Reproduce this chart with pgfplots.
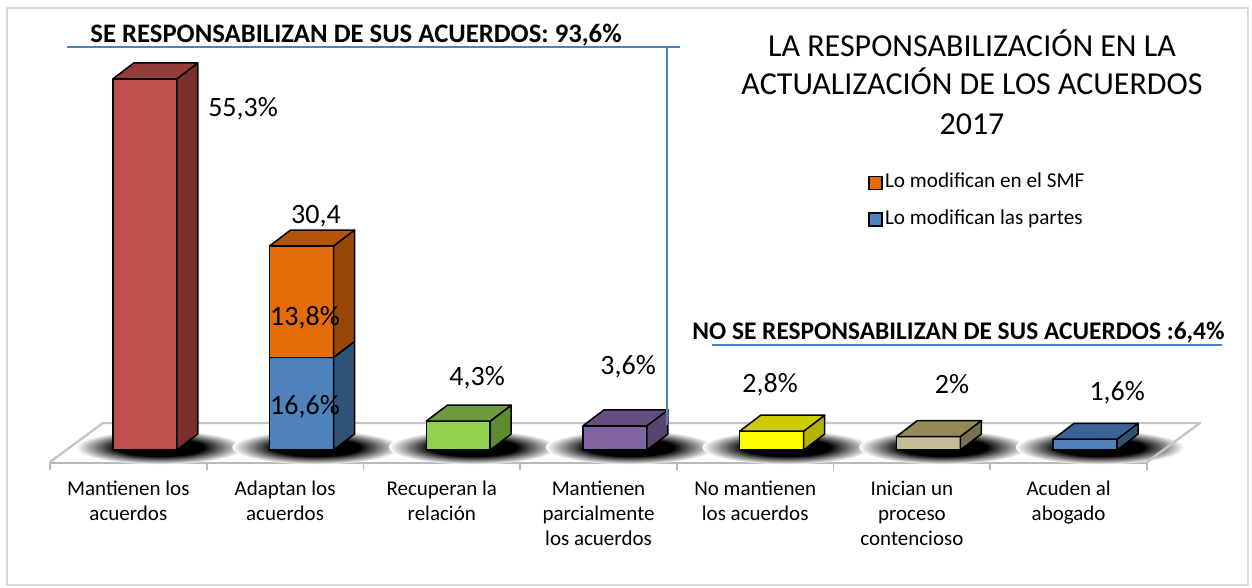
\documentclass[border=0pt]{standalone}
\usepackage{fontspec}
\setmainfont{Carlito}
\usepackage{pgfplots}
\usepackage{pgfplotstable}
\pgfplotsset{compat=1.18}

\definecolor{redF}{HTML}{C0504D}\definecolor{redS}{HTML}{7B2E2C}\definecolor{redT}{HTML}{943C39}
\definecolor{blueF}{HTML}{4F81BD}\definecolor{blueS}{HTML}{2F5277}\definecolor{blueT}{HTML}{3B6397}
\definecolor{orangeF}{HTML}{E46C0A}\definecolor{orangeS}{HTML}{974706}\definecolor{orangeT}{HTML}{B25508}
\definecolor{greenF}{HTML}{92D050}\definecolor{greenS}{HTML}{5E8B2E}\definecolor{greenT}{HTML}{6E9C3C}
\definecolor{purpleF}{HTML}{8064A2}\definecolor{purpleS}{HTML}{57446F}\definecolor{purpleT}{HTML}{644E80}
\definecolor{yellowF}{HTML}{FFFF00}\definecolor{yellowS}{HTML}{B3B300}\definecolor{yellowT}{HTML}{CCCC00}
\definecolor{tanF}{HTML}{C4BD97}\definecolor{tanS}{HTML}{787050}\definecolor{tanT}{HTML}{948A54}
\definecolor{lineblue}{HTML}{4F81BD}

\pgfdeclareradialshading{barshadow}{\pgfpoint{0bp}{0bp}}{color(0bp)=(black); color(13bp)=(black); color(25bp)=(white); color(50bp)=(white)}

% unit faces of a cuboid: a = left/right, b = depth, c = bottom/top
\pgfplotstableread[row sep=\\]{a b c\\ -1 0 0\\ 1 0 0\\ 1 0 1\\ -1 0 1\\}\faceFront
\pgfplotstableread[row sep=\\]{a b c\\ 1 0 0\\ 1 1 0\\ 1 1 1\\ 1 0 1\\}\faceSide
\pgfplotstableread[row sep=\\]{a b c\\ -1 0 1\\ 1 0 1\\ 1 1 1\\ -1 1 1\\}\faceTop

\newcommand{\hw}{0.204}
\newcommand{\ddx}{0.134}
\newcommand{\ddy}{2.38}

\newcommand{\face}[5]{%
  \addplot[forget plot, fill=#5, draw=black, line width=0.75pt, line join=round]
    table[x expr={#2+\thisrow{a}*\hw+\thisrow{b}*\ddx},
          y expr={#3+\thisrow{c}*(#4-(#3))+\thisrow{b}*\ddy}] {#1} -- cycle;
}
\newcommand{\cuboid}[6]{%
  \face{\faceFront}{#1}{#2}{#3}{#4}%
  \face{\faceSide}{#1}{#2}{#3}{#5}%
  \face{\faceTop}{#1}{#2}{#3}{#6}%
}
\newcommand{\shadow}[1]{%
  \shade[shading=barshadow] (axis cs:#1,0.4) ellipse [x radius=42pt, y radius=8.5pt];
}

\begin{document}
\begin{tikzpicture}
\path[use as bounding box] (0,0) rectangle (626pt,294pt);
\fill[white] (0,0) rectangle (626pt,294pt);
\draw[gray!30, line width=1pt] (3.5pt,1.5pt) rectangle (624pt,290pt);

\begin{axis}[
  at={(25pt,63pt)}, anchor=south west,
  scale only axis, width=548.5pt, height=200pt,
  xmin=-0.5, xmax=6.5, ymin=-1.79, ymax=57.82,
  clip=false,
  axis x line*=bottom, axis y line=none,
  x axis line style={gray!55, line width=2.2pt},
  xtick={0,...,6},
  xticklabels={{Mantienen los\\acuerdos},{Adaptan los\\acuerdos},{Recuperan la\\relación},{Mantienen\\parcialmente\\los acuerdos},{No mantienen\\los acuerdos},{Inician un\\proceso\\contencioso},{Acuden al\\abogado}},
  xticklabel style={font=\fontsize{10.5}{12.5}\selectfont, align=center, anchor=north, yshift=-6pt},
  major tick length=0pt,
  minor xtick={-0.5,0.5,...,6.5},
  minor tick length=4pt,
  tick align=outside,
  minor tick style={gray!55, line width=0.8pt},
  legend style={at={(0.7457,0.73)}, anchor=north west, draw=none, fill=none,
    inner sep=0pt, row sep=6pt, font=\fontsize{10.6}{12}\selectfont,
    nodes={inner sep=1.2pt, text height=7.5pt, text depth=2.5pt}},
  legend cell align=left,
  legend image code/.code={\draw[#1, draw=black, line width=0.6pt] (0pt,-3.25pt) rectangle (6.5pt,3.25pt);},
]
% floor
\fill[white] (axis cs:-0.5,-1.79) -- (axis cs:6.5,-1.79) -- (axis cs:6.838,4.02) -- (axis cs:-0.162,4.02) -- cycle;
\shadow{0.2}\shadow{1.2}\shadow{2.2}\shadow{3.2}\shadow{4.2}\shadow{5.2}\shadow{6.2}
\draw[gray!45, line width=1.2pt, line join=round] (axis cs:-0.5,-1.79) -- (axis cs:-0.162,4.02) -- (axis cs:6.838,4.02) -- (axis cs:6.5,-1.79);

\addlegendimage{fill=orangeF}\addlegendentry{Lo modifican en el SMF}
\addlegendimage{fill=blueF}\addlegendentry{Lo modifican las partes}

\cuboid{0.105}{0}{55.3}{redF}{redS}{redT}
\cuboid{1.105}{0}{13.8}{blueF}{blueS}{blueT}
\cuboid{1.105}{13.8}{30.4}{orangeF}{orangeS}{orangeT}
\cuboid{2.105}{0}{4.3}{greenF}{greenS}{greenT}
\cuboid{3.105}{0}{3.6}{purpleF}{purpleS}{purpleT}
\cuboid{4.105}{0}{2.8}{yellowF}{yellowS}{yellowT}
\cuboid{5.105}{0}{2.0}{tanF}{tanS}{tanT}
\cuboid{6.105}{0}{1.6}{blueF}{blueS}{blueT}

\begin{scope}[every node/.style={font=\fontsize{14}{16}\selectfont, anchor=center, inner sep=0pt}]
\node at (axis cs:0.732,50.9) {55,3\%};
\node at (axis cs:1.197,34.8) {30,4};
\node at (axis cs:1.127,19.7) {13,8\%};
\node at (axis cs:1.127,6.4) {16,6\%};
\node at (axis cs:2.225,10.7) {4,3\%};
\node at (axis cs:3.189,12.4) {3,6\%};
\node at (axis cs:4.095,9.7) {2,8\%};
\node at (axis cs:5.256,9.8) {2\%};
\node at (axis cs:6.31,8.5) {1,6\%};
\end{scope}
\end{axis}

% annotations
\draw[lineblue, line width=1pt] (33.5pt,270.5pt) -- (340pt,270.5pt);
\draw[lineblue, line width=1pt] (333.5pt,270.5pt) -- (333.5pt,81.5pt);
\draw[lineblue, line width=1pt] (356pt,121.5pt) -- (611pt,121.5pt);
\node[anchor=base west, inner sep=0pt, font=\bfseries\fontsize{13.35}{15}\selectfont] at (45pt,272.5pt) {SE RESPONSABILIZAN DE SUS ACUERDOS: 93,6\%};
\node[anchor=base west, inner sep=0pt, font=\bfseries\fontsize{12.7}{15}\selectfont] at (346pt,124pt) {NO SE RESPONSABILIZAN DE SUS ACUERDOS :6,4\%};
\begin{scope}[every node/.style={anchor=base, inner sep=0pt, font=\fontsize{16}{18}\selectfont}]
\node at (486pt,265.5pt) {LA RESPONSABILIZACIÓN EN LA};
\node at (486pt,246.5pt) {ACTUALIZACIÓN DE LOS ACUERDOS};
\node at (486pt,226.5pt) {2017};
\end{scope}
\end{tikzpicture}
\end{document}
